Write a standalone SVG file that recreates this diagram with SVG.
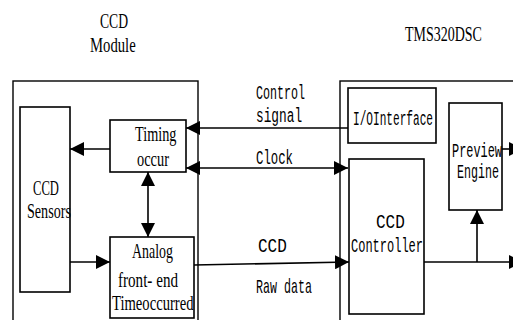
<svg xmlns="http://www.w3.org/2000/svg" width="513" height="320" viewBox="0 0 513 320">
  <style>
    .box { fill: none; stroke: #000; stroke-width: 1.6; }
    .frame { fill: none; stroke: #000; stroke-width: 1.4; }
    .wire { fill: none; stroke: #000; stroke-width: 1.6; }
    .serif { font-family: "Liberation Serif", "Times New Roman", serif; font-size: 21px; fill: #000; }
    .mono { font-family: "Liberation Mono", "Courier New", monospace; font-size: 20px; fill: #000; }
  </style>
  <defs>
    <marker id="arrow" viewBox="0 0 14 14" markerUnits="userSpaceOnUse" markerWidth="14" markerHeight="14" refX="14" refY="7" orient="auto-start-reverse">
      <path d="M0,0 L14,7 L0,14 Z" fill="#000"/>
    </marker>
  </defs>

  <rect width="513" height="320" fill="#fff"/>

  <!-- titles (narrow lettering: glyphs squeezed horizontally) -->
  <g id="title-ccd-module">
    <text class="serif" transform="translate(100,28) scale(0.65,1)">CCD</text>
    <text class="serif" transform="translate(90,52) scale(0.70,1)">Module</text>
  </g>
  <g id="title-tms">
    <text class="serif" transform="translate(405,41) scale(0.666,1)">TMS320DSC</text>
  </g>

  <!-- CCD module side -->
  <g id="ccd-module">
    <rect class="frame" x="13" y="81" width="185" height="260"/>
  </g>
  <g id="ccd-sensors">
    <rect class="box" x="20" y="107" width="50" height="185"/>
    <text class="serif" transform="translate(33,194.5) scale(0.60,1)">CCD</text>
    <text class="serif" transform="translate(27,218) scale(0.673,1)">Sensors</text>
  </g>
  <g id="timing-occur">
    <rect class="box" x="110" y="120" width="76" height="52"/>
    <text class="serif" transform="translate(135,141) scale(0.679,1)">Timing</text>
    <text class="serif" transform="translate(137,166) scale(0.686,1)">occur</text>
  </g>
  <g id="analog-front-end">
    <rect class="box" x="110" y="237" width="84" height="81"/>
    <text class="serif" transform="translate(132,258) scale(0.663,1)">Analog</text>
    <text class="serif" transform="translate(118,286.5) scale(0.72,1)">front- end</text>
    <text class="serif" transform="translate(112,310) scale(0.697,1)">Timeoccurred</text>
  </g>

  <!-- TMS320DSC side -->
  <g id="tms320dsc">
    <rect class="frame" x="340" y="81" width="200" height="260"/>
  </g>
  <g id="io-interface">
    <rect class="box" x="348" y="88" width="88" height="55"/>
    <text class="mono" transform="translate(353,125) scale(0.556,1)">I/OInterface</text>
  </g>
  <g id="ccd-controller">
    <rect class="box" x="349" y="159" width="75" height="155"/>
    <text class="mono" transform="translate(376,228) scale(0.8,1)">CCD</text>
    <text class="mono" transform="translate(351,252) scale(0.6,1)">Controller</text>
  </g>
  <g id="preview-engine">
    <rect class="box" x="449" y="103" width="53" height="107"/>
    <text class="mono" transform="translate(452,157) scale(0.595,1)">Preview</text>
    <text class="mono" transform="translate(457,178) scale(0.583,1)">Engine</text>
  </g>

  <!-- connectors -->
  <g id="connectors">
    <path class="wire" d="M110,149 L70,149" marker-end="url(#arrow)"/>
    <path class="wire" d="M70,262 L110,262" marker-end="url(#arrow)"/>
    <path class="wire" d="M148,172 L148,237" marker-start="url(#arrow)" marker-end="url(#arrow)"/>
    <path class="wire" d="M348,128 L186,128" marker-end="url(#arrow)"/>
    <path class="wire" d="M186,168 L348,168" marker-start="url(#arrow)" marker-end="url(#arrow)"/>
    <path class="wire" d="M194,265 L349,262" marker-end="url(#arrow)"/>
    <path class="wire" d="M424,262 L523,262" marker-end="url(#arrow)"/>
    <path class="wire" d="M477,262 L477,210" marker-end="url(#arrow)"/>
    <path class="wire" d="M502,149 L523,149" marker-end="url(#arrow)"/>
  </g>

  <!-- connector labels -->
  <g id="labels">
    <text class="mono" transform="translate(256,99) scale(0.583,1)">Control</text>
    <text class="mono" transform="translate(256,122) scale(0.64,1)">signal</text>
    <text class="mono" transform="translate(256,164) scale(0.617,1)">Clock</text>
    <text class="mono" transform="translate(258,252) scale(0.8,1)">CCD</text>
    <text class="mono" transform="translate(256,293) scale(0.583,1)">Raw data</text>
  </g>
</svg>
